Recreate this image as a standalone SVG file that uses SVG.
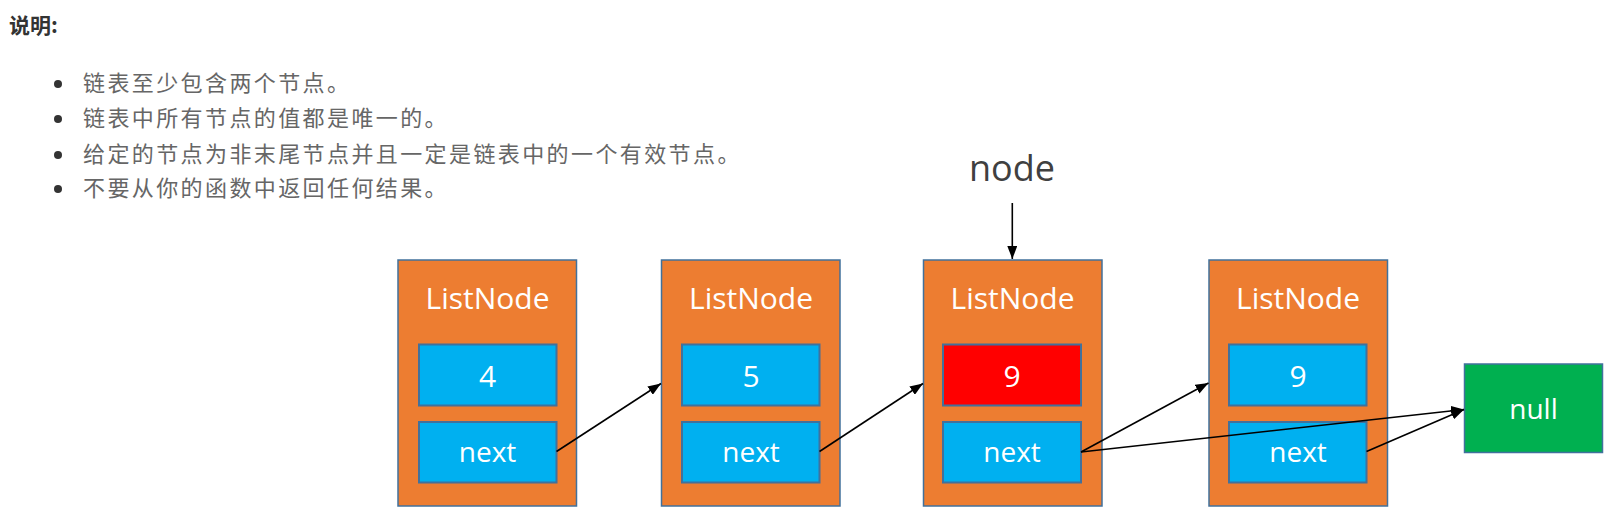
<svg xmlns="http://www.w3.org/2000/svg" width="1615" height="513" viewBox="0 0 1615 513">
<defs>
<style>
.outer{fill:#ED7D31;stroke:#41719C;stroke-width:1.5}
.val{fill:#00B0F0;stroke:#41719C;stroke-width:2}
.red{fill:#FF0000;stroke:#41719C;stroke-width:2}
.nul{fill:#00B050;stroke:#41719C;stroke-width:1.5}
.t{font-family:"Open Sans","Noto Sans",sans-serif;fill:#FFFFFF;text-anchor:middle}
.h{font-size:30px}
.n{font-size:28px}
.cn{font-family:"Noto Sans CJK SC",sans-serif;font-size:22px;fill:#666666;letter-spacing:2.4px}
.conn{stroke:#000;stroke-width:1.6;fill:none;marker-end:url(#ah)}
</style>
<marker id="ah" markerUnits="userSpaceOnUse" markerWidth="14" markerHeight="10" refX="13" refY="5" orient="auto">
<path d="M0,0 L13,5 L0,10 z" fill="#000"/>
</marker>
</defs>
<rect width="1615" height="513" fill="#FFFFFF"/>
<g id="notes">
<text x="9" y="33" font-family="Noto Sans CJK SC,sans-serif" font-size="21" font-weight="bold" fill="#333333">说明:</text>
<circle cx="58" cy="84" r="4" fill="#333"/>
<circle cx="58" cy="119" r="4" fill="#333"/>
<circle cx="58" cy="155" r="4" fill="#333"/>
<circle cx="58" cy="189" r="4" fill="#333"/>
<text class="cn" x="83" y="91">链表至少包含两个节点。</text>
<text class="cn" x="83" y="126">链表中所有节点的值都是唯一的。</text>
<text class="cn" x="83" y="162">给定的节点为非末尾节点并且一定是链表中的一个有效节点。</text>
<text class="cn" x="83" y="196">不要从你的函数中返回任何结果。</text>
</g>
<g id="pointer">
<text x="1012" y="181" font-family="Open Sans,Noto Sans,sans-serif" font-size="36" fill="#404040" text-anchor="middle">node</text>
</g>
<g id="node1">
<rect class="outer" x="398" y="260" width="178.5" height="246"/>
<text class="t h" x="487.5" y="309">ListNode</text>
<rect class="val" x="419" y="344.5" width="137.5" height="61"/>
<text class="t h" x="487.5" y="387">4</text>
<rect class="val" x="419" y="422" width="137.5" height="60.5"/>
<text class="t n" x="487.5" y="462">next</text>
</g>
<g id="node2">
<rect class="outer" x="661.5" y="260" width="178.5" height="246"/>
<text class="t h" x="751" y="309">ListNode</text>
<rect class="val" x="682" y="344.5" width="137.5" height="61"/>
<text class="t h" x="751" y="387">5</text>
<rect class="val" x="682" y="422" width="137.5" height="60.5"/>
<text class="t n" x="751" y="462">next</text>
</g>
<g id="node3">
<rect class="outer" x="923.5" y="260" width="178.5" height="246"/>
<text class="t h" x="1012.5" y="309">ListNode</text>
<rect class="red" x="943" y="344.5" width="138" height="61"/>
<text class="t h" x="1012" y="387">9</text>
<rect class="val" x="943" y="422" width="138" height="60.5"/>
<text class="t n" x="1012" y="462">next</text>
</g>
<g id="node4">
<rect class="outer" x="1209" y="260" width="178.5" height="246"/>
<text class="t h" x="1298" y="309">ListNode</text>
<rect class="val" x="1229" y="344.5" width="137.5" height="61"/>
<text class="t h" x="1298" y="387">9</text>
<rect class="val" x="1229" y="422" width="137.5" height="60.5"/>
<text class="t n" x="1298" y="462">next</text>
</g>
<g id="null">
<rect class="nul" x="1464.5" y="364" width="138" height="88.5"/>
<text class="t n" x="1533.5" y="419">null</text>
</g>
<g id="connectors">
<line class="conn" x1="1012.3" y1="203" x2="1012.3" y2="259"/>
<line class="conn" x1="556.5" y1="451.5" x2="661" y2="383.5"/>
<line class="conn" x1="819.5" y1="451.5" x2="923" y2="383.5"/>
<line class="conn" x1="1081" y1="452" x2="1208.5" y2="383"/>
<line class="conn" x1="1081" y1="452" x2="1464" y2="409.5"/>
<line class="conn" x1="1366.5" y1="451.5" x2="1464" y2="409.5"/>
</g>
</svg>
